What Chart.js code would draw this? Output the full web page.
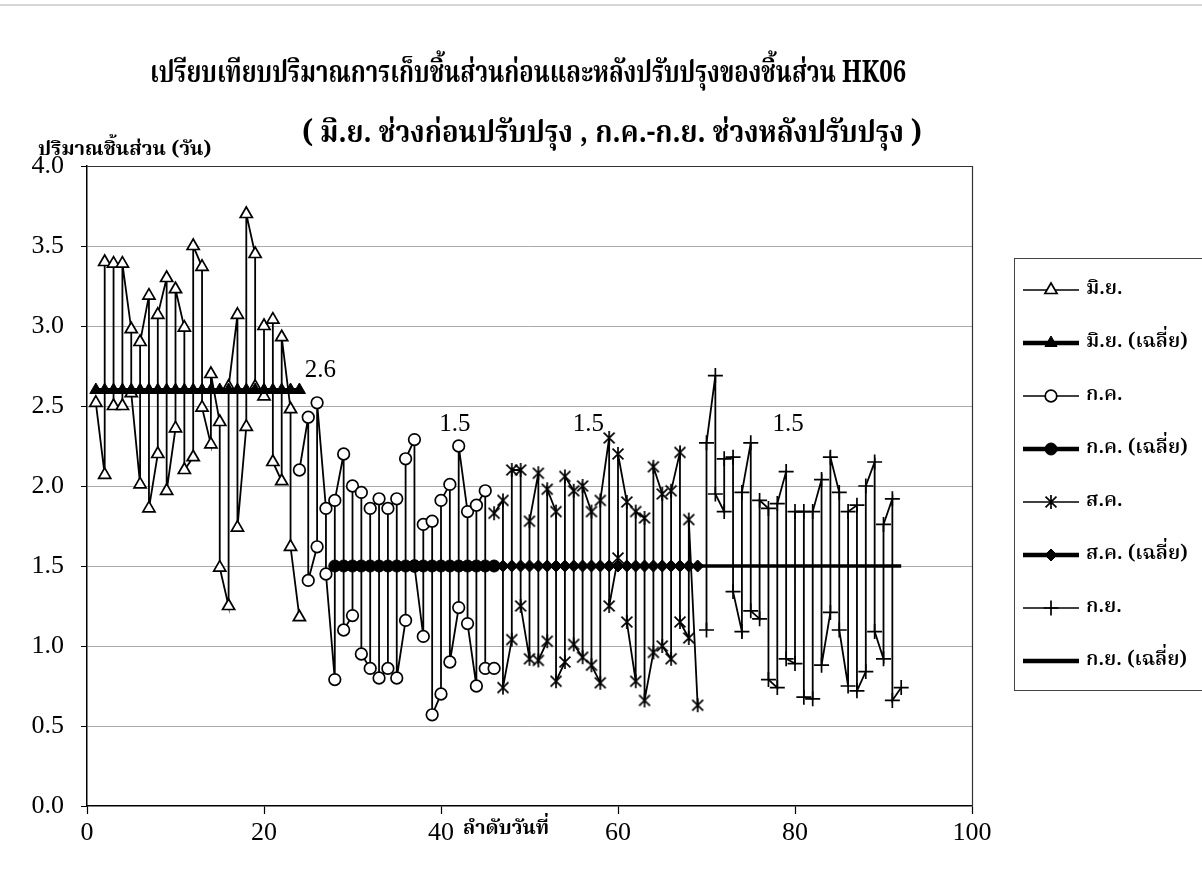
<!DOCTYPE html>
<html>
<head>
<meta charset="utf-8">
<script src="https://cdn.jsdelivr.net/npm/chart.js@4.4.1/dist/chart.umd.min.js"></script>
<style>
  html, body { margin: 0; padding: 0; background: #fff; }
  #wrap { width: 1202px; height: 880px; position: relative; }
</style>
</head>
<body>
<div id="wrap"><canvas id="c" width="1202" height="880"></canvas></div>
<script>
// ---- text ----
const titleText = 'เปรียบเทียบปริมาณการเก็บชิ้นส่วนก่อนและหลังปรับปรุงของชิ้นส่วน HK06';
const subtitleText = '( มิ.ย. ช่วงก่อนปรับปรุง , ก.ค.-ก.ย. ช่วงหลังปรับปรุง )';
const yAxisTitle = 'ปริมาณชิ้นส่วน (วัน)';
const xAxisTitle = 'ลำดับวันที่';
const seriesNames = ['มิ.ย.', 'มิ.ย. (เฉลี่ย)', 'ก.ค.', 'ก.ค. (เฉลี่ย)', 'ส.ค.', 'ส.ค. (เฉลี่ย)', 'ก.ย.', 'ก.ย. (เฉลี่ย)'];

// ---- axis ticks ----
const xTickValues = [0, 20, 40, 60, 80, 100];
const yTickValues = [0.0, 0.5, 1.0, 1.5, 2.0, 2.5, 3.0, 3.5, 4.0];

// ---- June (before improvement) ----
const junDays = [1, 2,2, 3,3, 4,4, 5,5, 6,6, 7,7, 8,8, 9,9, 10,10, 11,11, 12,12, 13,13,
                 14,14, 15,15, 16,16, 17,17, 18,18, 19,19, 20,20, 21,21, 22,22, 23,23, 24];
const junQty  = [2.52, 2.07,3.40, 3.39,2.50, 2.50,3.39, 2.98,2.58, 2.01,2.90, 3.19,1.86, 2.20,3.07,
                 3.30,1.97, 2.36,3.23, 2.99,2.10, 2.18,3.50, 3.37,2.49, 2.26,2.70, 2.40,1.49,
                 1.25,2.62, 3.07,1.74, 2.37,3.70, 3.45,2.62, 2.56,3.00, 3.04,2.15, 2.03,2.93,
                 2.48,1.62, 1.18];
const junAvg = 2.6;
const junAvgDays = [1,2,3,4,5,6,7,8,9,10,11,12,13,14,15,16,17,18,19,20,21,22,23,24];

// ---- July ----
const julDays = [24, 25,25, 26,26, 27,27, 28,28, 29,29, 30,30, 31,31, 32,32, 33,33, 34,34, 35,35,
                 36,36, 37,37, 38,38, 39,39, 40,40, 41,41, 42,42, 43,43, 44,44, 45,45, 46];
const julQty  = [2.10, 2.43,1.41, 1.62,2.52, 1.86,1.45, 0.79,1.91, 2.20,1.10, 1.19,2.00, 1.96,0.95,
                 0.86,1.86, 1.92,0.80, 0.86,1.86, 1.92,0.80, 1.16,2.17, 2.29,1.50, 1.06,1.76,
                 1.78,0.57, 0.70,1.91, 2.01,0.90, 1.24,2.25, 1.84,1.14, 0.75,1.88, 1.97,0.86, 0.86];
const julAvg = 1.5;
const julAvgDays = [28,29,30,31,32,33,34,35,36,37,38,39,40,41,42,43,44,45,46];

// ---- August ----
const augDays = [46, 47,47, 48,48, 49,49, 50,50, 51,51, 52,52, 53,53, 54,54, 55,55, 56,56, 57,57,
                 58,58, 59,59, 60,60, 61,61, 62,62, 63,63, 64,64, 65,65, 66,66, 67,67, 68,68, 69];
const augQty  = [1.83, 1.91,0.74, 1.04,2.10, 2.10,1.25, 0.92,1.78, 2.08,0.91, 1.03,1.98, 1.84,0.78,
                 0.90,2.06, 1.97,1.01, 0.93,2.00, 1.84,0.88, 0.77,1.91, 2.30,1.25, 1.55,2.20,
                 1.90,1.15, 0.78,1.84, 1.80,0.66, 0.96,2.12, 1.95,1.00, 0.92,1.97, 2.21,1.15,
                 1.05,1.79, 0.63];
const augAvg = 1.5;
const augAvgDays = [46,47,48,49,50,51,52,53,54,55,56,57,58,59,60,61,62,63,64,65,66,67,68,69];

// ---- September ----
const sepDays = [70,70, 71,71, 72,72, 73,73, 74,74, 75,75, 76,76, 77,77, 78,78, 79,79, 80,80,
                 81,81, 82,82, 83,83, 84,84, 85,85, 86,86, 87,87, 88,88, 89,89, 90,90, 91,91, 92];
const sepQty  = [1.10,2.27, 2.69,1.95, 1.84,2.17, 2.18,1.34, 1.09,1.96, 2.27,1.22, 1.17,1.91,
                 1.86,0.79, 0.74,1.89, 2.09,0.92, 0.89,1.84, 1.84,0.68, 0.67,1.84, 2.04,0.88,
                 1.21,2.18, 1.96,1.10, 0.75,1.84, 1.88,0.72, 0.84,2.00, 2.15,1.09, 0.92,1.76,
                 1.92,0.66, 0.74];
const sepAvg = 1.5;
const sepAvgDays = [69,70,71,72,73,74,75,76,77,78,79,80,81,82,83,84,85,86,87,88,89,90,91,92];

// ---- helpers ----
const toPoints = (days, vals) => days.map((d, k) => ({ x: d, y: vals[k] }));
const levelPoints = (days, level) => days.map(d => ({ x: d, y: level }));

const THAI = "'Noto Serif Thai', 'Noto Sans Thai', 'Norasi', 'Loma', 'Garuda', 'Liberation Serif', serif";
const SERIF = "'Liberation Serif', 'Times New Roman', serif";

// six-armed asterisk marker
function makeAsterisk(r, lw) {
  const s = Math.ceil(2 * r + 2 * lw);
  const c = document.createElement('canvas');
  c.width = s; c.height = s;
  const g = c.getContext('2d');
  const m = s / 2, d = r * 0.78;
  g.strokeStyle = '#000';
  g.lineWidth = lw;
  g.beginPath();
  g.moveTo(m - d, m - d); g.lineTo(m + d, m + d);
  g.moveTo(m + d, m - d); g.lineTo(m - d, m + d);
  g.moveTo(m, m - r); g.lineTo(m, m + r);
  g.stroke();
  return c;
}
const asterisk = makeAsterisk(7, 1.7);

const datasets = [
  { label: seriesNames[0], data: toPoints(junDays, junQty), order: 2,
    borderColor: '#000', borderWidth: 1.8, pointStyle: 'triangle', pointRadius: 7,
    pointBackgroundColor: '#fff', pointBorderColor: '#000', pointBorderWidth: 1.7 },
  { label: seriesNames[1], data: levelPoints(junAvgDays, junAvg), order: 1, avgValue: junAvg,
    borderColor: '#000', borderWidth: 4, pointStyle: 'triangle', pointRadius: 7,
    pointBackgroundColor: '#000', pointBorderColor: '#000', pointBorderWidth: 1 },
  { label: seriesNames[2], data: toPoints(julDays, julQty), order: 2,
    borderColor: '#000', borderWidth: 1.8, pointStyle: 'circle', pointRadius: 5.8,
    pointBackgroundColor: '#fff', pointBorderColor: '#000', pointBorderWidth: 1.7 },
  { label: seriesNames[3], data: levelPoints(julAvgDays, julAvg), order: 1, avgValue: julAvg,
    borderColor: '#000', borderWidth: 4, pointStyle: 'circle', pointRadius: 6,
    pointBackgroundColor: '#000', pointBorderColor: '#000', pointBorderWidth: 1 },
  { label: seriesNames[4], data: toPoints(augDays, augQty), order: 2,
    borderColor: '#000', borderWidth: 1.8, pointStyle: asterisk, pointRadius: 7,
    pointBackgroundColor: '#000', pointBorderColor: '#000', pointBorderWidth: 1.7 },
  { label: seriesNames[5], data: levelPoints(augAvgDays, augAvg), order: 1, avgValue: augAvg,
    borderColor: '#000', borderWidth: 4, pointStyle: 'rectRot', pointRadius: 6,
    pointBackgroundColor: '#000', pointBorderColor: '#000', pointBorderWidth: 1 },
  { label: seriesNames[6], data: toPoints(sepDays, sepQty), order: 2,
    borderColor: '#000', borderWidth: 1.8, pointStyle: 'cross', pointRadius: 7.5,
    pointBackgroundColor: '#000', pointBorderColor: '#000', pointBorderWidth: 1.7 },
  { label: seriesNames[7], data: levelPoints(sepAvgDays, sepAvg), order: 1, avgValue: sepAvg,
    borderColor: '#000', borderWidth: 3.5, pointStyle: 'line', pointRadius: 0,
    pointBackgroundColor: '#000', pointBorderColor: '#000', pointBorderWidth: 1 }
];
datasets.forEach(ds => { ds.showLine = true; ds.tension = 0; ds.pointHoverRadius = ds.pointRadius; });

// where the average value labels sit: anchor day on the average line + pixel offset
const avgLabelPlacement = [
  { ds: 1, day: 24, dx: 21, dy: -20 },
  { ds: 3, day: 41, dx: 5,  dy: -142 },
  { ds: 5, day: 57, dx: -3, dy: -142 },
  { ds: 7, day: 79, dx: 2,  dy: -142 }
];

const decorPlugin = {
  id: 'decor',
  beforeDatasetsDraw(chart) {
    const { ctx, chartArea: a } = chart;
    ctx.save();
    ctx.strokeStyle = '#333';
    ctx.lineWidth = 1.2;
    ctx.beginPath();
    ctx.moveTo(a.left, a.top + 0.5); ctx.lineTo(a.right + 0.5, a.top + 0.5);
    ctx.lineTo(a.right + 0.5, a.bottom);
    ctx.stroke();
    ctx.restore();
  },
  afterDatasetsDraw(chart) {
    const { ctx } = chart;
    const xs = chart.scales.x, ys = chart.scales.y;
    ctx.save();
    ctx.fillStyle = '#000';
    ctx.font = '25px ' + SERIF;
    ctx.textAlign = 'center';
    ctx.textBaseline = 'middle';
    avgLabelPlacement.forEach(p => {
      const v = chart.data.datasets[p.ds].avgValue;
      ctx.fillText(v.toFixed(1), xs.getPixelForValue(p.day) + p.dx, ys.getPixelForValue(v) + p.dy);
    });
    ctx.restore();
  },
  afterDraw(chart) {
    const { ctx } = chart;
    ctx.save();
    // faint page rule at the top
    ctx.strokeStyle = '#c8c8c8';
    ctx.lineWidth = 1.5;
    ctx.beginPath(); ctx.moveTo(0, 5); ctx.lineTo(1202, 5); ctx.stroke();

    ctx.fillStyle = '#000';
    ctx.textBaseline = 'alphabetic';
    ctx.textAlign = 'center';
    ctx.font = 'bold 31px ' + THAI;
    ctx.fillText(titleText, 528, 82, 756);
    ctx.font = 'bold 31px ' + THAI;
    ctx.fillText(subtitleText, 612, 142, 620);
    ctx.textAlign = 'left';
    ctx.font = 'bold 20px ' + THAI;
    ctx.fillText(yAxisTitle, 38, 155, 194);
    ctx.textAlign = 'center';
    ctx.font = 'bold 20px ' + THAI;
    ctx.fillText(xAxisTitle, 506, 834, 86);

    // legend
    const lx = 1014, ly = 258, lw = 200, lh = 432;
    ctx.strokeStyle = '#444';
    ctx.lineWidth = 1;
    ctx.strokeRect(lx + 0.5, ly + 0.5, lw, lh);
    ctx.beginPath(); ctx.rect(lx, ly - 2, 1189 - lx, lh + 4); ctx.clip();
    const rowY0 = 290, rowStep = 53;
    chart.data.datasets.forEach((ds, k) => {
      const y = rowY0 + k * rowStep;
      ctx.strokeStyle = '#000';
      ctx.lineWidth = ds.borderWidth > 2 ? 4.5 : 1.6;
      ctx.beginPath(); ctx.moveTo(1023, y); ctx.lineTo(1079, y); ctx.stroke();
      if (ds.pointRadius > 0) {
        ctx.fillStyle = ds.pointBackgroundColor;
        ctx.strokeStyle = ds.pointBorderColor;
        ctx.lineWidth = ds.pointBorderWidth;
        Chart.helpers.drawPoint(ctx, { pointStyle: ds.pointStyle, rotation: 0,
          radius: ds.pointRadius, borderWidth: ds.pointBorderWidth }, 1051, y);
      }
      ctx.fillStyle = '#000';
      ctx.textAlign = 'left';
      ctx.textBaseline = 'middle';
      ctx.font = '600 20px ' + THAI;
      ctx.fillText(ds.label, 1086, y + 1);
    });
    ctx.restore();
  }
};

new Chart(document.getElementById('c'), {
  type: 'scatter',
  data: { datasets },
  options: {
    responsive: false,
    animation: false,
    devicePixelRatio: 1,
    layout: { padding: { top: 166, right: 230, left: 0, bottom: 0 } },
    plugins: { legend: { display: false }, title: { display: false }, tooltip: { enabled: false } },
    scales: {
      x: {
        type: 'linear', min: 0, max: 100,
        afterBuildTicks: s => { s.ticks = xTickValues.map(v => ({ value: v })); },
        afterFit: s => { s.height = 880 - 806; },
        ticks: { color: '#000', font: { family: SERIF, size: 26 }, padding: 4, maxRotation: 0 },
        grid: { drawOnChartArea: false, tickLength: 8, tickColor: '#000', tickWidth: 1.2 },
        border: { color: '#000', width: 1.5 }
      },
      y: {
        type: 'linear', min: 0, max: 4,
        afterBuildTicks: s => { s.ticks = yTickValues.map(v => ({ value: v })); },
        afterFit: s => { s.width = 87; },
        ticks: { color: '#000', font: { family: SERIF, size: 26 }, padding: 17,
                 callback: v => Number(v).toFixed(1) },
        grid: { color: c => (c.tick && c.tick.value === 0 ? 'rgba(0,0,0,0)' : '#a9a9a9'),
                lineWidth: 1, tickLength: 6, tickColor: '#000' },
        border: { color: '#000', width: 1.5 }
      }
    }
  },
  plugins: [decorPlugin]
});
</script>
</body>
</html>
